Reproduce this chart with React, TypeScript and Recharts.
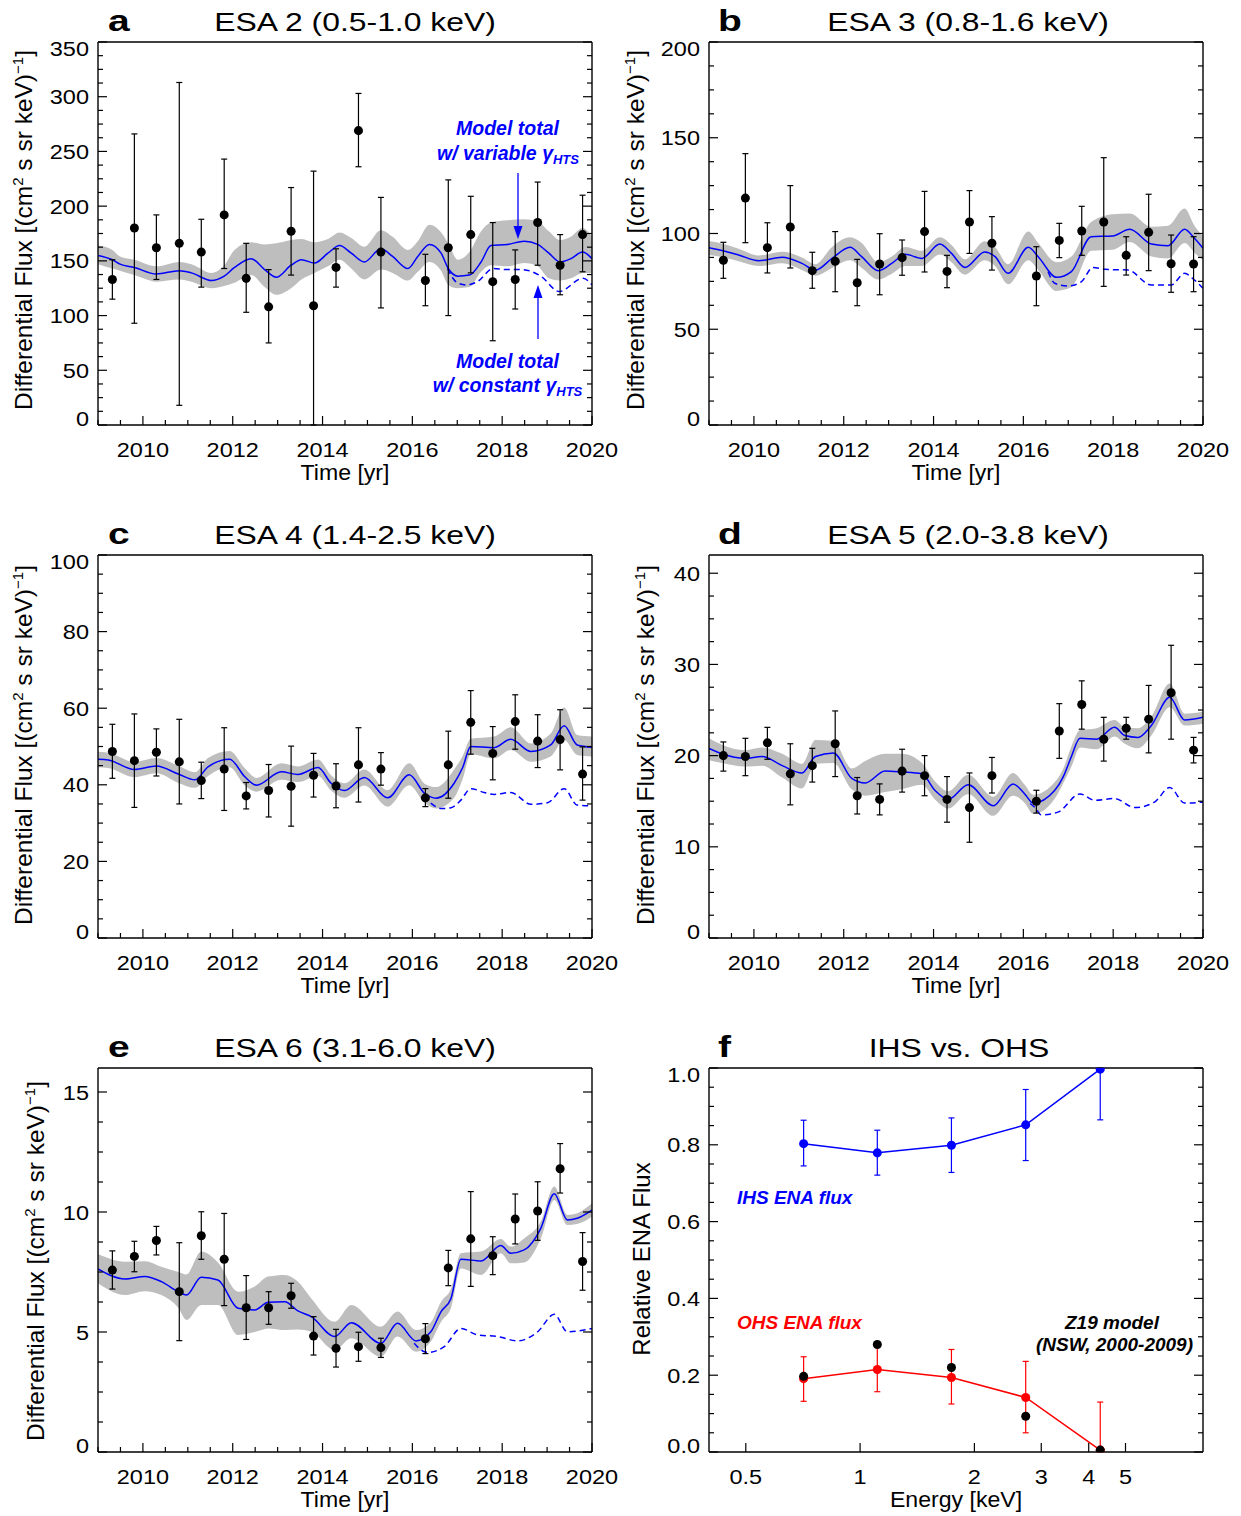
import React from 'react';
import { ComposedChart, XAxis, YAxis, Scatter, Line, Area, ErrorBar } from 'recharts';

const FONT = '"Liberation Sans", Arial, Helvetica, sans-serif';
const BLUE = '#0000ff';
const RED = '#ff0000';
const BAND = '#bebebe';

// ---------- observation times (all ESA panels) ----------
const obsT = [2009.32, 2009.81, 2010.3, 2010.81, 2011.3, 2011.81, 2012.3, 2012.8, 2013.3, 2013.8, 2014.3, 2014.8, 2015.3, 2016.29, 2016.8, 2017.3, 2017.79, 2018.29, 2018.79, 2019.29, 2019.79];

// ---------- ESA 2 ----------
const aFlux = [133, 180, 162, 166, 158, 192, 134, 108, 177, 109, 144, 269, 158, 132, 162, 174, 131, 133, 185, 146, 174];
const aHi = [151, 266, 192, 313, 188, 243, 166, 142, 217, 232, 161, 303, 208, 156, 224, 209, 185, 160, 222, 174, 210];
const aLo = [115, 93, 133, 18, 126, 143, 103, 75, 137, 0, 126, 236, 107, 109, 100, 139, 77, 106, 146, 119, 140];
const aModelT = [2009.0, 2009.32, 2009.49, 2009.81, 2010.3, 2010.81, 2011.08, 2011.53, 2011.81, 2012.04, 2012.41, 2012.71, 2012.97, 2013.3, 2013.53, 2013.82, 2014.12, 2014.38, 2014.64, 2014.93, 2015.3, 2015.56, 2015.9, 2016.12, 2016.38, 2016.64, 2016.8, 2017.01, 2017.27, 2017.53, 2017.75, 2018.12, 2018.49, 2018.79, 2019.04, 2019.29, 2019.53, 2019.79, 2020.0];
const aModel = [155, 151, 147, 144, 138, 141, 139, 132, 136, 144, 152, 142, 135, 146, 151, 148, 157, 164, 157, 149, 161, 154, 143, 154, 165, 157, 143, 136, 137, 149, 164, 165, 168, 165, 157, 149, 152, 158, 152];
const aBandLo = [147, 143, 141, 137, 131, 133, 131, 125, 127, 130, 137, 126, 119, 125, 133, 139, 145, 151, 143, 133, 142, 139, 132, 140, 149, 141, 128, 125, 126, 140, 146, 145, 148, 145, 134, 132, 134, 139, 139];
const aBandHi = [164, 160, 154, 151, 145, 149, 147, 139, 146, 160, 167, 165, 166, 169, 170, 167, 170, 176, 171, 163, 178, 172, 160, 168, 183, 176, 166, 151, 158, 177, 185, 187, 188, 186, 177, 169, 172, 180, 172];
const aConstT = [2016.78, 2017.0, 2017.2, 2017.45, 2017.8, 2018.1, 2018.45, 2018.86, 2019.27, 2019.8, 2020.0];
const aConst = [143, 130, 128, 131, 143, 142, 142, 136, 122, 134, 128];

// ---------- ESA 3 ----------
const bFlux = [86, 118.5, 92.6, 103.4, 80.6, 85.5, 74.3, 84.1, 87.4, 101, 80.2, 106, 94.9, 77.8, 96.4, 101.3, 106, 88.6, 100.6, 84.2, 84.1];
const bHi = [95.4, 141.7, 105.6, 125, 90.2, 101, 86.5, 99.9, 96.6, 122, 88.6, 122.4, 108.8, 93.1, 105.3, 114.2, 139.6, 98.3, 120.5, 99.2, 98.3];
const bLo = [76.6, 95.2, 79.4, 82, 71.4, 69.6, 62.3, 68, 78.2, 79.9, 71.7, 89.6, 80.9, 62.3, 87.4, 88.6, 72.4, 78.3, 80.6, 69.3, 69.6];
const bModelT = [2009.0, 2009.33, 2009.66, 2010.11, 2010.63, 2011.07, 2011.37, 2011.74, 2012.14, 2012.4, 2012.77, 2013.07, 2013.37, 2013.74, 2014.14, 2014.4, 2014.7, 2015.14, 2015.37, 2015.66, 2016.11, 2016.33, 2016.74, 2017.07, 2017.51, 2017.99, 2018.37, 2018.85, 2019.22, 2019.59, 2019.81, 2020.0];
const bModel = [92.6, 90.9, 88.8, 85.8, 87.6, 84.4, 80.9, 87, 92.8, 87.9, 80.6, 84.4, 89.1, 87, 94.5, 89.6, 82.3, 90.3, 87.9, 79.2, 92.8, 87.9, 77.1, 80.1, 98.3, 98.7, 102.2, 94.5, 93.6, 102.2, 97.5, 92.3];
const bBandLo = [88.8, 87.5, 85.5, 83, 84.5, 81, 78, 82, 86, 82, 76, 79, 83, 83, 89, 85, 78.5, 86, 83, 73.5, 86, 81, 70, 72, 91, 91.5, 95.5, 88, 87, 95, 90, 86];
const bBandHi = [96.1, 94.5, 92, 88.5, 90.5, 87.5, 84, 93, 98, 95, 85, 88, 93, 91, 98, 94, 86.5, 96, 93, 84, 101, 95, 85, 88, 106, 110, 110.5, 103.5, 104, 113, 104, 98.5];
const bConstT = [2016.55, 2016.7, 2017.0, 2017.29, 2017.55, 2017.81, 2018.33, 2018.85, 2019.29, 2019.59, 2019.81, 2020.0];
const bConst = [80, 74, 72.6, 74.8, 82.3, 81.3, 80.9, 73.1, 73.1, 79.2, 75.7, 71.4];

// ---------- ESA 4 ----------
const cFlux = [48.7, 46.3, 48.5, 46, 41.1, 44.1, 37.1, 38.5, 39.6, 42.5, 39.7, 45.2, 44.1, 36.6, 45.2, 56.3, 48.2, 56.5, 51.4, 51.8, 42.8];
const cHi = [55.8, 58.5, 54.6, 57.1, 45.9, 54.9, 40.6, 45.3, 50.1, 48.2, 45.5, 54.9, 48.4, 39, 54, 64.6, 55.2, 63.5, 58.3, 59.6, 49.9];
const cLo = [41.7, 34.1, 42.3, 35, 36.4, 33.3, 33.7, 31.6, 29.2, 36.8, 34, 35.5, 39.9, 34.3, 36.5, 48, 41.3, 49.3, 44.5, 43.9, 36];
const cModelT = [2009.0, 2009.23, 2009.81, 2010.3, 2010.79, 2011.16, 2011.45, 2011.93, 2012.27, 2012.53, 2013.08, 2013.45, 2013.9, 2014.19, 2014.49, 2014.93, 2015.45, 2015.93, 2016.27, 2016.53, 2016.93, 2017.12, 2017.3, 2017.82, 2018.19, 2018.64, 2019.08, 2019.38, 2019.67, 2020.0];
const cModel = [46.7, 46.5, 44, 44.9, 42.8, 41.3, 44.7, 46.7, 42.1, 39.9, 43.4, 42.7, 44.5, 40.4, 38.5, 41.9, 36.6, 42.6, 37.8, 36.5, 40.4, 44.5, 50, 49.7, 51.9, 48.7, 50.4, 55.4, 50.4, 49.8];
const cBandLo = [44.6, 44.4, 42, 43, 40.5, 39.2, 42.3, 44.6, 39.8, 38.2, 41.3, 40.7, 42.3, 38.5, 36.6, 39.8, 34.3, 39.9, 35.3, 33.8, 36.6, 41.5, 48, 46.9, 49.1, 46, 47.4, 51.7, 47.8, 47.4];
const cBandHi = [48.6, 48.4, 46, 47, 45, 43.3, 47, 48.8, 44.3, 41.8, 45.6, 44.8, 46.6, 42.5, 40.4, 44, 38.6, 45.6, 40.3, 39.4, 44, 47.5, 52, 52.6, 55, 50.8, 53.4, 60.2, 53, 52.6];
const cConstT = [2016.41, 2016.64, 2016.86, 2017.08, 2017.3, 2017.6, 2017.82, 2018.19, 2018.64, 2019.01, 2019.38, 2019.67, 2020.0];
const cConst = [35.2, 33.8, 34, 36, 39, 38, 37.5, 38, 34.9, 35.3, 39, 34.7, 34.5];

// ---------- ESA 5 ----------
const dFlux = [20, 19.9, 21.4, 18, 18.9, 21.3, 15.6, 15.2, 18.3, 17.8, 15.2, 14.3, 17.8, 15, 22.7, 25.6, 21.8, 23, 24, 26.9, 20.6];
const dHi = [21.5, 21.9, 23.1, 21.3, 20.8, 24.9, 17.6, 16.9, 20.7, 20, 17.7, 18.1, 19.8, 16.2, 25.7, 28.2, 24.2, 24.2, 27.7, 32.1, 22];
const dLo = [18.3, 17.8, 19.6, 14.6, 17.1, 17.7, 13.6, 13.5, 16, 15.6, 12.7, 10.5, 15.9, 13.7, 19.7, 22.9, 19.4, 21.8, 20.3, 21.8, 19.2];
const dModelT = [2009.0, 2009.29, 2009.8, 2010.18, 2010.63, 2011.07, 2011.37, 2011.77, 2012.18, 2012.48, 2012.92, 2013.29, 2013.74, 2014.03, 2014.33, 2014.77, 2015.33, 2015.77, 2016.03, 2016.22, 2016.7, 2016.89, 2017.07, 2017.26, 2017.63, 2018.03, 2018.26, 2018.55, 2018.85, 2019.26, 2019.59, 2020.0];
const dModel = [20.8, 20.2, 19.7, 19.9, 18.9, 18.1, 19.9, 20.3, 17.5, 17, 18.3, 18.2, 18, 16.2, 15.2, 16.8, 14.5, 16.9, 15.8, 14.8, 16.2, 17.7, 19.9, 21.9, 21.8, 23.1, 22.2, 22, 23.3, 26.4, 23.9, 24.2];
const dBandLo = [19.5, 19.2, 18.8, 18.9, 17.6, 16.4, 19.1, 19.2, 16.3, 15.6, 16, 16.3, 16.8, 15.2, 14.2, 15.8, 13.4, 15.6, 14.8, 13.6, 15.3, 17, 18.8, 20.9, 20.7, 22.1, 21.3, 20.8, 22.2, 25.3, 23.3, 23.5];
const dBandHi = [21.9, 21.2, 20.6, 20.9, 20.2, 19.1, 21.7, 21.6, 18.6, 19.4, 20.2, 20.2, 19.2, 17.2, 16.1, 17.9, 15.5, 18.1, 16.8, 15.7, 17.1, 18.6, 21.0, 22.8, 23, 23.9, 23.1, 23, 24.3, 27.9, 24.6, 24.8];
const dConstT = [2016.15, 2016.26, 2016.4, 2016.77, 2017.26, 2017.59, 2018.03, 2018.48, 2018.92, 2019.26, 2019.59, 2020.0];
const dConst = [14.75, 14.3, 13.5, 13.8, 15.8, 15.1, 15.3, 14.3, 14.9, 16.5, 14.8, 14.9];

// ---------- ESA 6 ----------
const eFlux = [7.58, 8.15, 8.81, 6.68, 9.01, 8.03, 6.01, 6.01, 6.51, 4.83, 4.32, 4.39, 4.35, 4.72, 7.67, 8.88, 8.18, 9.71, 10.04, 11.8, 7.94];
const eHi = [8.38, 8.78, 9.4, 8.72, 10.01, 9.94, 7.35, 6.68, 7.03, 5.64, 5.11, 4.99, 4.74, 5.35, 8.4, 10.85, 8.97, 10.75, 11.26, 12.85, 9.14];
const eLo = [6.79, 7.51, 8.21, 4.64, 8.03, 6.1, 4.69, 5.32, 5.99, 4.04, 3.54, 3.78, 3.94, 4.1, 6.93, 6.9, 7.39, 8.67, 8.82, 10.79, 6.74];
const eModelT = [2009.0, 2009.6, 2010.04, 2010.41, 2010.79, 2010.97, 2011.3, 2011.67, 2012.12, 2012.49, 2012.79, 2013.16, 2013.45, 2013.75, 2014.27, 2014.64, 2015.3, 2015.67, 2016.08, 2016.41, 2016.64, 2016.86, 2017.08, 2017.53, 2017.97, 2018.19, 2018.49, 2018.86, 2019.16, 2019.45, 2019.67, 2020.0];
const eModel = [7.63, 7.21, 7.31, 7.1, 6.68, 6.54, 7.28, 7.17, 5.99, 5.92, 6.24, 6.26, 5.88, 5.64, 4.81, 5.39, 4.53, 5.36, 4.63, 5.01, 5.85, 6.4, 8.03, 7.96, 8.6, 8.28, 8.42, 9.32, 10.76, 9.67, 9.74, 10.08];
const eBandLo = [7.03, 6.54, 6.7, 6.54, 6.0, 5.5, 6.13, 6.13, 4.88, 5.0, 5.15, 5.08, 5.1, 5.01, 4.25, 4.74, 3.97, 4.81, 4.18, 4.6, 5.43, 6.0, 7.65, 7.38, 8.28, 7.86, 7.9, 8.9, 10.5, 9.46, 9.5, 9.8];
const eBandHi = [8.25, 7.93, 7.95, 7.72, 7.5, 7.4, 8.35, 7.9, 6.68, 6.9, 7.31, 7.38, 7.1, 6.4, 5.43, 6.13, 5.22, 5.85, 5.08, 5.4, 6.26, 6.8, 8.28, 8.35, 8.88, 8.56, 8.9, 9.6, 11.06, 9.88, 9.95, 10.36];
const eConstT = [2016.04, 2016.23, 2016.34, 2016.71, 2017.08, 2017.45, 2017.9, 2018.34, 2018.79, 2019.16, 2019.45, 2020.0];
const eConst = [4.53, 4.21, 4.15, 4.39, 5.15, 4.88, 4.81, 4.63, 5.01, 5.74, 5.01, 5.15];

// ---------- IHS vs OHS ----------
const energies = [0.71, 1.11, 1.74, 2.73, 4.29];
const ihs = [0.803, 0.779, 0.799, 0.852, 0.997];
const ihsHi = [0.864, 0.838, 0.87, 0.944, 1.0];
const ihsLo = [0.745, 0.721, 0.728, 0.759, 0.865];
const ohs = [0.191, 0.215, 0.194, 0.142, 0.005];
const ohsHi = [0.248, 0.274, 0.267, 0.236, 0.13];
const ohsLo = [0.132, 0.157, 0.125, 0.05, 0.0];
const z19 = [0.197, 0.28, 0.22, 0.093, 0.005];

// ---------- tick labels ----------
const yearLabels = [2010, 2012, 2014, 2016, 2018, 2020];
const aYLabels = [0, 50, 100, 150, 200, 250, 300, 350];
const bYLabels = [0, 50, 100, 150, 200];
const cYLabels = [0, 20, 40, 60, 80, 100];
const dYLabels = [0, 10, 20, 30, 40];
const eYLabels = [0, 5, 10, 15];
const fYLabels = [0, 0.2, 0.4, 0.6, 0.8, 1.0];
const energyLabels = [0.5, 1, 2, 3, 4, 5];

function steps(a: number, b: number, s: number): number[] {
  const out: number[] = [];
  for (let i = 0; a + i * s <= b + 1e-9; i++) out.push(Math.round((a + i * s) * 1e6) / 1e6);
  return out;
}

const mkCurve = (t: number[], m: number[], lo: number[], hi: number[]) =>
  t.map((tt, i) => ({ t: tt, m: m[i], band: [lo[i], hi[i]] }));
const mkLine = (t: number[], v: number[]) => t.map((tt, i) => ({ t: tt, v: v[i] }));
const mkPts = (t: number[], v: number[], lo: number[], hi: number[], key = 't') =>
  t.map((tt, i) => ({ [key]: tt, v: v[i], err: [v[i] - lo[i], hi[i] - v[i]] }));

const near = (a: number, b: number) => Math.abs(a - b) < 1e-6;

function makeTick(side: string, majors: number[], fmt: ((v: number) => string) | null, domain: number[]) {
  return (p: any) => {
    const x = Number(p.x);
    const y = Number(p.y);
    const v = Number(p.payload && p.payload.value);
    const major = majors.some((m) => near(m, v));
    const len = major ? 9 : 5;
    const ls = { stroke: '#000', strokeWidth: 1.2 };
    let line;
    if (side === 'b') line = <line x1={x} y1={y} x2={x} y2={y - len} {...ls} />;
    else if (side === 't') line = <line x1={x} y1={y} x2={x} y2={y + len} {...ls} />;
    else if (side === 'l') line = <line x1={x} y1={y} x2={x + len} y2={y} {...ls} />;
    else line = <line x1={x} y1={y} x2={x - len} y2={y} {...ls} />;
    let label = null;
    if (fmt && major) {
      if (side === 'b') {
        label = (
          <text transform={`translate(${x},${y + 32}) scale(1.12,1)`} textAnchor="middle" fontFamily={FONT} fontSize={21} fill="#000">
            {fmt(v)}
          </text>
        );
      } else if (side === 'l') {
        const shift = near(v, domain[0]) ? -7 : near(v, domain[1]) ? 6 : 0;
        label = (
          <text transform={`translate(${x - 9},${y + shift + 7.5}) scale(1.12,1)`} textAnchor="end" fontFamily={FONT} fontSize={21} fill="#000">
            {fmt(v)}
          </text>
        );
      }
    }
    return (
      <g>
        {line}
        {label}
      </g>
    );
  };
}

type AxisCfg = { domain: number[]; ticks: number[]; majors: number[]; fmt: (v: number) => string; scale?: string; key?: string };
type Box = { x0: number; y0: number; x1: number; y1: number };

function Frame({ pos, box, x, y, children }: { pos: number[]; box: Box; x: AxisCfg; y: AxisCfg; children: any }) {
  const [L, T, W, H] = pos;
  // each axis occupies 1px outside the plot, so margins are reduced by 1
  const margin = { top: box.y0 - T - 1, left: box.x0 - L - 1, right: L + W - box.x1 - 1, bottom: T + H - box.y1 - 1 };
  const axisLine = { stroke: '#000', strokeWidth: 1.4 };
  const sc: any = x.scale || 'linear';
  return (
    <div style={{ position: 'absolute', left: L, top: T, width: W, height: H }}>
      <ComposedChart width={W} height={H} margin={margin}>
        <XAxis xAxisId="b" orientation="bottom" dataKey={x.key} type="number" scale={sc} domain={x.domain as any} allowDataOverflow ticks={x.ticks} interval={0} height={1} tickSize={0} tickMargin={0} tickLine={false} axisLine={axisLine} tick={makeTick('b', x.majors, x.fmt, x.domain)} />
        <XAxis xAxisId="t" orientation="top" type="number" scale={sc} domain={x.domain as any} allowDataOverflow ticks={x.ticks} interval={0} height={1} tickSize={0} tickMargin={0} tickLine={false} axisLine={axisLine} tick={makeTick('t', x.majors, null, x.domain)} />
        <YAxis yAxisId="l" orientation="left" type="number" domain={y.domain as any} allowDataOverflow ticks={y.ticks} interval={0} width={1} tickSize={0} tickMargin={0} tickLine={false} axisLine={axisLine} tick={makeTick('l', y.majors, y.fmt, y.domain)} />
        <YAxis yAxisId="r" orientation="right" type="number" domain={y.domain as any} allowDataOverflow ticks={y.ticks} interval={0} width={1} tickSize={0} tickMargin={0} tickLine={false} axisLine={axisLine} tick={makeTick('r', y.majors, null, y.domain)} />
        {children}
      </ComposedChart>
    </div>
  );
}

const timeAxis: AxisCfg = { domain: [2009, 2020], ticks: steps(2009, 2020, 0.5), majors: yearLabels, fmt: (v) => String(v), key: 't' };

function TimePanel({ pos, box, y, curve, cons, pts }: any) {
  return (
    <Frame pos={pos} box={box} x={timeAxis} y={y}>
      <Area xAxisId="b" yAxisId="l" data={curve} dataKey="band" type="monotone" stroke="none" fill={BAND} fillOpacity={1} isAnimationActive={false} activeDot={false} />
      <Line xAxisId="b" yAxisId="l" data={cons} dataKey="v" type="monotone" stroke={BLUE} strokeWidth={1.5} strokeDasharray="6 4" dot={false} activeDot={false} isAnimationActive={false} />
      <Line xAxisId="b" yAxisId="l" data={curve} dataKey="m" type="monotone" stroke={BLUE} strokeWidth={1.5} dot={false} activeDot={false} isAnimationActive={false} />
      <Scatter xAxisId="b" yAxisId="l" data={pts} dataKey="v" fill="#000" isAnimationActive={false}>
        <ErrorBar dataKey="err" direction="y" width={3} stroke="#000" strokeWidth={1.2} />
      </Scatter>
    </Frame>
  );
}

function EnergyPanel() {
  const x: AxisCfg = { domain: [0.4, 8], ticks: energyLabels, majors: energyLabels, fmt: (v) => String(v), scale: 'log', key: 'E' };
  const y: AxisCfg = { domain: [0, 1], ticks: steps(0, 1, 0.05), majors: fYLabels, fmt: (v) => v.toFixed(1) };
  const ihsPts = mkPts(energies, ihs, ihsLo, ihsHi, 'E');
  const ohsPts = mkPts(energies, ohs, ohsLo, ohsHi, 'E');
  const zPts = energies.map((e, i) => ({ E: e, v: z19[i] }));
  return (
    <Frame pos={[620, 1026, 621, 490]} box={{ x0: 709, y0: 1068, x1: 1203, y1: 1452 }} x={x} y={y}>
      <Scatter xAxisId="b" yAxisId="l" data={ihsPts} dataKey="v" fill={BLUE} line={{ stroke: BLUE, strokeWidth: 1.5 }} lineType="joint" isAnimationActive={false}>
        <ErrorBar dataKey="err" direction="y" width={3} stroke={BLUE} strokeWidth={1.2} />
      </Scatter>
      <Scatter xAxisId="b" yAxisId="l" data={ohsPts} dataKey="v" fill={RED} line={{ stroke: RED, strokeWidth: 1.5 }} lineType="joint" isAnimationActive={false}>
        <ErrorBar dataKey="err" direction="y" width={3} stroke={RED} strokeWidth={1.2} />
      </Scatter>
      <Scatter xAxisId="b" yAxisId="l" data={zPts} dataKey="v" fill="#000" isAnimationActive={false} />
    </Frame>
  );
}

function YTitle({ bx, cy }: { bx: number; cy: number }) {
  return (
    <text transform={`translate(${bx},${cy}) rotate(-90)`} textAnchor="middle" fontSize={24.5} fontFamily={FONT} fill="#000">
      Differential Flux [(cm<tspan dy={-9} fontSize={15}>2</tspan>
      <tspan dy={9}> s sr keV)</tspan>
      <tspan dy={-9} fontSize={15}>−1</tspan>
      <tspan dy={9}>]</tspan>
    </text>
  );
}

function Overlay() {
  const letter = (x: number, y: number, s: string) => (
    <text transform={`translate(${x},${y}) scale(1.3,1)`} fontSize={30} fontWeight="bold" fontFamily={FONT} fill="#000">{s}</text>
  );
  const title = (cx: number, y: number, s: string) => (
    <text transform={`translate(${cx},${y}) scale(1.25,1)`} textAnchor="middle" fontSize={25.5} fontFamily={FONT} fill="#000">{s}</text>
  );
  const xt = (cx: number, y: number, s: string) => (
    <text transform={`translate(${cx},${y}) scale(1.05,1)`} textAnchor="middle" fontSize={22} fontFamily={FONT} fill="#000">{s}</text>
  );
  const bi = { fontFamily: FONT, fontWeight: 'bold' as const, fontStyle: 'italic' as const, fontSize: 19.5 };
  return (
    <svg width={1241} height={1516} style={{ position: 'absolute', left: 0, top: 0, pointerEvents: 'none' }}>
      {letter(108, 31, 'a')}
      {title(355, 31, 'ESA 2 (0.5-1.0 keV)')}
      {letter(718, 31, 'b')}
      {title(968, 31, 'ESA 3 (0.8-1.6 keV)')}
      {letter(108, 544, 'c')}
      {title(355, 544, 'ESA 4 (1.4-2.5 keV)')}
      {letter(718, 544, 'd')}
      {title(968, 544, 'ESA 5 (2.0-3.8 keV)')}
      {letter(108, 1057, 'e')}
      {title(355, 1057, 'ESA 6 (3.1-6.0 keV)')}
      {letter(718, 1057, 'f')}
      {title(959, 1057, 'IHS vs. OHS')}

      {xt(345, 480, 'Time [yr]')}
      {xt(956, 480, 'Time [yr]')}
      {xt(345, 993, 'Time [yr]')}
      {xt(956, 993, 'Time [yr]')}
      {xt(345, 1507, 'Time [yr]')}
      {xt(956, 1507, 'Energy [keV]')}

      <YTitle bx={32} cy={230} />
      <YTitle bx={644} cy={230} />
      <YTitle bx={32} cy={745} />
      <YTitle bx={654} cy={745} />
      <YTitle bx={44} cy={1261} />
      <text transform="translate(650,1259) rotate(-90)" textAnchor="middle" fontSize={24} fontFamily={FONT} fill="#000">Relative ENA Flux</text>

      <g fill={BLUE} {...bi}>
        <text x={507.5} y={135} textAnchor="middle">Model total</text>
        <text x={508} y={160} textAnchor="middle">w/ variable γ<tspan fontSize={13} dy={4}>HTS</tspan></text>
        <text x={507.5} y={368} textAnchor="middle">Model total</text>
        <text x={507.5} y={392} textAnchor="middle">w/ constant γ<tspan fontSize={13} dy={4}>HTS</tspan></text>
      </g>
      <g stroke={BLUE} strokeWidth={1.3}>
        <line x1={518} y1={173} x2={518} y2={229} />
        <line x1={538} y1={339} x2={538} y2={294} />
      </g>
      <polygon points="518,239 513.5,226 522.5,226" fill={BLUE} />
      <polygon points="538,285 533.5,298 542.5,298" fill={BLUE} />

      <g {...bi} fontSize={19}>
        <text x={737} y={1204} fill={BLUE}>IHS ENA flux</text>
        <text x={737} y={1329} fill={RED}>OHS ENA flux</text>
        <text x={1112} y={1329} textAnchor="middle" fill="#000">Z19 model</text>
        <text x={1193} y={1351} textAnchor="end" fill="#000">(NSW, 2000-2009)</text>
      </g>
    </svg>
  );
}

const yCfg = (max: number, step: number, labels: number[]): AxisCfg => ({ domain: [0, max], ticks: steps(0, max, step), majors: labels, fmt: (v) => String(v) });

export default function App() {
  return (
    <div style={{ position: 'absolute', left: 0, top: 0, width: 1241, height: 1516, background: '#fff', overflow: 'hidden' }}>
      <TimePanel pos={[0, 0, 620, 513]} box={{ x0: 98, y0: 42, x1: 592, y1: 425 }} y={yCfg(350, 12.5, aYLabels)}
        curve={mkCurve(aModelT, aModel, aBandLo, aBandHi)} cons={mkLine(aConstT, aConst)} pts={mkPts(obsT, aFlux, aLo, aHi)} />
      <TimePanel pos={[620, 0, 621, 513]} box={{ x0: 709, y0: 42, x1: 1203, y1: 425 }} y={yCfg(200, 12.5, bYLabels)}
        curve={mkCurve(bModelT, bModel, bBandLo, bBandHi)} cons={mkLine(bConstT, bConst)} pts={mkPts(obsT, bFlux, bLo, bHi)} />
      <TimePanel pos={[0, 513, 620, 513]} box={{ x0: 98, y0: 555, x1: 592, y1: 938 }} y={yCfg(100, 5, cYLabels)}
        curve={mkCurve(cModelT, cModel, cBandLo, cBandHi)} cons={mkLine(cConstT, cConst)} pts={mkPts(obsT, cFlux, cLo, cHi)} />
      <TimePanel pos={[620, 513, 621, 513]} box={{ x0: 709, y0: 555, x1: 1203, y1: 938 }} y={{ ...yCfg(42, 2.5, dYLabels), domain: [0, 42] }}
        curve={mkCurve(dModelT, dModel, dBandLo, dBandHi)} cons={mkLine(dConstT, dConst)} pts={mkPts(obsT, dFlux, dLo, dHi)} />
      <TimePanel pos={[0, 1026, 620, 490]} box={{ x0: 98, y0: 1068, x1: 592, y1: 1452 }} y={yCfg(16, 1.25, eYLabels)}
        curve={mkCurve(eModelT, eModel, eBandLo, eBandHi)} cons={mkLine(eConstT, eConst)} pts={mkPts(obsT, eFlux, eLo, eHi)} />
      <EnergyPanel />
      <Overlay />
    </div>
  );
}
